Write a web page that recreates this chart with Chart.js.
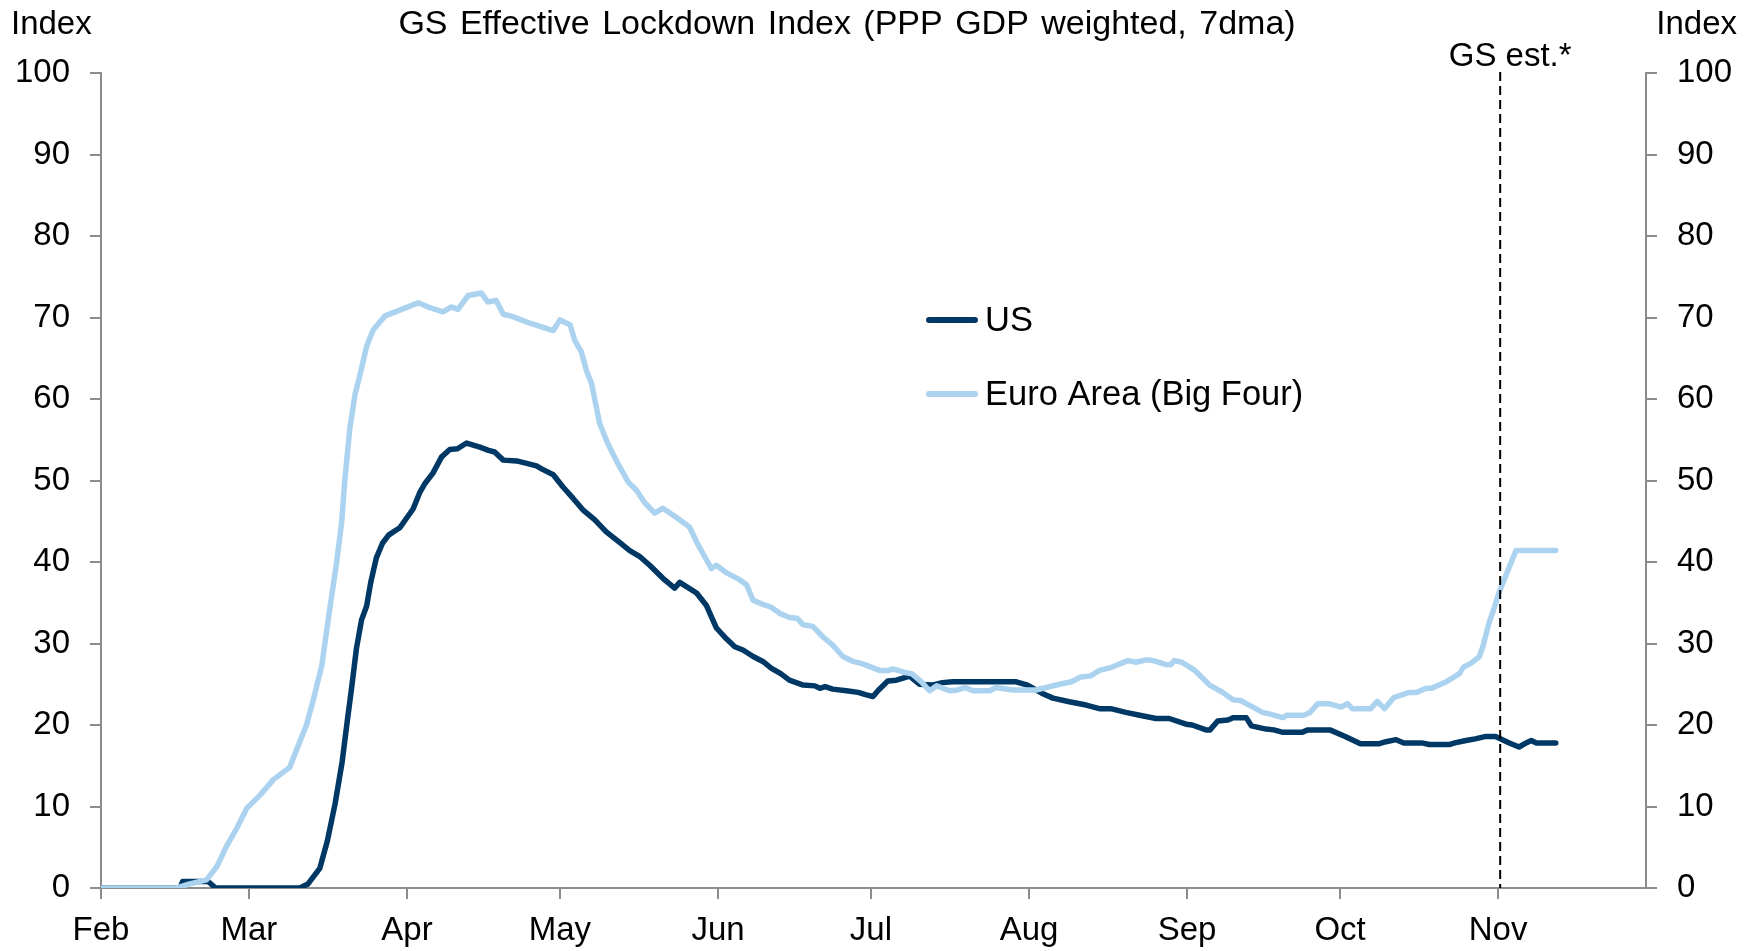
<!DOCTYPE html>
<html>
<head>
<meta charset="utf-8">
<title>GS Effective Lockdown Index</title>
<script src="https://cdn.jsdelivr.net/npm/chart.js@4.4.1/dist/chart.umd.min.js"></script>
<style>
  html, body { margin: 0; padding: 0; background: #fff; }
  #wrap { width: 1756px; height: 951px; }
</style>
</head>
<body>
<div id="wrap"><canvas id="lockdownChart" width="1756" height="951"></canvas></div>
<script>
// x values are days counted from 1 Feb 2020
const monthTicks = [0, 29, 60, 90, 121, 151, 182, 213, 243, 274];
const monthLabels = ['Feb', 'Mar', 'Apr', 'May', 'Jun', 'Jul', 'Aug', 'Sep', 'Oct', 'Nov'];
const yTicks = [0, 10, 20, 30, 40, 50, 60, 70, 80, 90, 100];
const estStartDay = 274.4;

const usDays = [0, 15.5, 16, 21, 22.5, 39, 40.6, 42.9, 44.4, 45.9, 47.3, 48.3, 49.1, 50.1, 51.1, 52.1, 52.9,
  54, 55.2, 56.4, 57.6, 58.6, 59.5, 61.2, 62.5, 63.5, 65.1, 66.8, 68.4, 69.9, 71.7, 74.3, 76, 77.2, 78.9,
  81.5, 83.5, 85.4, 86.5, 88.7, 90.6, 92.6, 94.5, 96.8, 99.1, 101.7, 103.7, 105.6, 107.6, 110.2, 112.5,
  113.5, 116.8, 118.7, 120.7, 122.6, 124.3, 125.9, 127.9, 129.8, 131.5, 133.3, 135, 137.7, 140, 141, 142,
  143.5, 146.2, 148.5, 150.1, 151.4, 152.5, 154.3, 156, 158.6, 160.5, 163, 165, 167, 179.5, 181.7, 184.5,
  186.7, 189.9, 193.2, 195.8, 198, 201, 203.7, 206.9, 209.5, 212.8, 214, 216.7, 217.5, 219, 221, 222,
  224.6, 225.6, 228.5, 230, 231.8, 235.5, 236.7, 241, 244, 247, 250.7, 252, 254, 255.5, 259, 260.5,
  264.4, 265.5, 267.7, 269.5, 271.6, 273.5, 276.2, 278.1, 279.5, 280.5, 281.5, 285.3];
const usValues = [0, 0, 0.8, 0.8, 0, 0, 0.5, 2.4, 5.8, 10.3, 15.5, 20.5, 24.3, 29.4, 32.9, 34.6, 37.5,
  40.5, 42.3, 43.3, 43.8, 44.2, 45, 46.5, 48.5, 49.6, 50.9, 52.9, 53.8, 53.9, 54.6, 54.1, 53.7, 53.5, 52.5,
  52.4, 52.1, 51.8, 51.4, 50.7, 49.2, 47.8, 46.4, 45.2, 43.7, 42.4, 41.4, 40.7, 39.6, 38.0, 36.8,
  37.5, 36.2, 34.7, 31.9, 30.6, 29.6, 29.2, 28.4, 27.8, 26.95, 26.3, 25.5, 24.9, 24.8, 24.5, 24.7,
  24.4, 24.2, 24.0, 23.7, 23.5, 24.3, 25.4, 25.5, 26.0, 25.0, 24.9, 25.2, 25.3, 25.3, 24.9, 23.9,
  23.3, 22.85, 22.45, 22.0, 22.0, 21.55, 21.2, 20.8, 20.8, 20.1, 20.0, 19.4, 19.4, 20.5, 20.6, 20.9,
  20.9, 19.9, 19.5, 19.4, 19.1, 19.1, 19.4, 19.4, 18.6, 17.7, 17.7, 17.95, 18.2, 17.8, 17.8, 17.6,
  17.6, 17.8, 18.1, 18.3, 18.6, 18.6, 17.8, 17.3, 17.8, 18.1, 17.8, 17.8];

const euDays = [0, 14.8, 17.4, 20.7, 22.7, 24.6, 26.6, 28.6, 31.2, 33.8, 37, 38.7, 40.3, 41.6, 43.3, 44.9,
  46.2, 47.2, 47.8, 48.8, 49.8, 50.8, 52.1, 53.4, 55.7, 58.6, 62.2, 64.5, 67.1, 68.7, 70, 72, 74.6, 75.9,
  77.5, 78.9, 80.8, 84.1, 86.1, 88.7, 90, 92, 92.9, 94.2, 95.2, 96.2, 97.8, 99.4, 101.7, 103.4, 105,
  106.6, 108.6, 110.2, 112.8, 115.4, 117.1, 119.7, 120.7, 122.6, 125.3, 126.6, 127.9, 129.8, 131.3,
  133.1, 135, 136.5, 137.7, 139.6, 141.6, 143.5, 145.5, 147.5, 149.4, 152.7, 154.5, 155.3, 157.9, 159,
  160.9, 162.5, 163.9, 166.4, 168, 169.5, 171, 174.3, 175.5, 178.8, 183.4, 185.4, 188, 190.3, 192.2,
  194, 195.8, 197.8, 201.4, 203, 205, 206.4, 208.9, 209.8, 210.5, 212, 214.5, 217.4, 220, 222, 223.5,
  225.9, 227.8, 229.5, 231.8, 232.5, 235.9, 237, 238.6, 240.9, 243.2, 244.5, 245.4, 249, 250.3, 251.7,
  253.6, 256.6, 258, 259.9, 261, 263.8, 266.4, 267.2, 268.7, 270.3, 271, 272.2, 273.3, 274.2, 276.2,
  277.5, 285.3];
const euValues = [0, 0, 0.5, 1.0, 2.6, 5.1, 7.3, 9.8, 11.4, 13.3, 14.8, 17.5, 20.0, 23.0, 27.3, 34.4,
  39.9, 44.9, 49.9, 56.4, 60.5, 63.0, 66.5, 68.5, 70.2, 70.9, 71.8, 71.2, 70.7, 71.3, 71.0, 72.7, 73.0, 71.9,
  72.1, 70.4, 70.1, 69.3, 68.9, 68.4, 69.7, 69.1, 67.2, 65.8, 63.5, 61.9, 57.0, 54.5, 51.7, 49.8, 48.8,
  47.3, 46.0, 46.6, 45.5, 44.3, 42.1, 39.2, 39.6, 38.7, 37.8, 37.2, 35.3, 34.8, 34.5,
  33.7, 33.2, 33.1, 32.3, 32.1, 30.8, 29.8, 28.4, 27.8, 27.5, 26.7, 26.7, 26.9, 26.4, 26.3,
  25.3, 24.2, 24.8, 24.2, 24.3, 24.6, 24.2, 24.2, 24.6, 24.3, 24.3, 24.6, 25.0, 25.3, 25.9,
  26.0, 26.7, 27.0, 27.9, 27.7, 28.0, 27.9, 27.4, 27.4, 27.9, 27.7, 26.7, 24.9, 24.0, 23.1, 23.0,
  22.2, 21.55, 21.3, 20.9, 21.2, 21.2, 21.5, 22.6, 22.6, 22.2, 22.6, 22.0, 22.0, 22.9, 22.0,
  23.4, 24.0, 24.0, 24.5, 24.5, 25.3, 26.3, 27.1, 27.6, 28.4, 29.6, 32.5, 34.5, 36.3, 39.4,
  41.4, 41.4];

const FONT = '"Liberation Sans", Arial, sans-serif';
const AXIS_GREY = '#8c8c8c';
const US_COLOR = '#003865';
const EU_COLOR = '#abd3f0';

Chart.defaults.font.family = FONT;
Chart.defaults.font.size = 33;
Chart.defaults.color = '#000';

const toPoints = (days, values) => days.map((d, i) => ({ x: d, y: values[i] }));

// extra text, dashed estimate marker and legend
const annotations = {
  id: 'annotations',
  afterDraw(chart) {
    const { ctx, chartArea, scales } = chart;
    ctx.save();
    ctx.font = '33px ' + FONT;
    ctx.fillStyle = '#000';
    ctx.textBaseline = 'middle';

    ctx.textAlign = 'left';
    ctx.fillText('Index', 11, 25);
    ctx.textAlign = 'right';
    ctx.fillText('Index', 1737, 25);

    ctx.font = '34px ' + FONT;
    ctx.textAlign = 'center';
    ctx.wordSpacing = '3px';
    ctx.fillText('GS Effective Lockdown Index (PPP GDP weighted, 7dma)', 847, 25);
    ctx.wordSpacing = '0px';

    // estimate marker
    ctx.font = '33px ' + FONT;
    const xEst = scales.x.getPixelForValue(estStartDay);
    ctx.fillText('GS est.*', xEst + 10, 57);
    ctx.strokeStyle = '#000';
    ctx.lineWidth = 2;
    ctx.setLineDash([9, 5]);
    ctx.beginPath();
    ctx.moveTo(xEst, 72);
    ctx.lineTo(xEst, chartArea.bottom);
    ctx.stroke();
    ctx.setLineDash([]);

    // legend
    ctx.font = '34.5px ' + FONT;
    ctx.textAlign = 'left';
    ctx.lineCap = 'round';
    ctx.lineWidth = 6;
    chart.data.datasets.forEach((ds, i) => {
      const y = 320 + i * 74;
      ctx.strokeStyle = ds.borderColor;
      ctx.beginPath();
      ctx.moveTo(929, y);
      ctx.lineTo(975, y);
      ctx.stroke();
      ctx.fillText(ds.label, 985, y + 1);
    });
    ctx.restore();
  }
};

const yAxis = (position, width) => ({
  position: position,
  min: 0,
  max: 100,
  afterBuildTicks: s => { s.ticks = yTicks.map(v => ({ value: v })); },
  afterFit: s => { s.width = width; },
  ticks: { padding: 20 },
  grid: { drawOnChartArea: false, tickLength: 11, color: AXIS_GREY, lineWidth: 2 },
  border: { color: AXIS_GREY, width: 2 }
});

new Chart(document.getElementById('lockdownChart'), {
  type: 'line',
  data: {
    datasets: [
      {
        label: 'US',
        data: toPoints(usDays, usValues),
        borderColor: US_COLOR,
        borderWidth: 5.5,
        order: 2
      },
      {
        label: 'Euro Area (Big Four)',
        data: toPoints(euDays, euValues),
        borderColor: EU_COLOR,
        borderWidth: 5.5,
        order: 1
      }
    ]
  },
  options: {
    responsive: false,
    animation: false,
    layout: { padding: { top: 73, left: 0, right: 0, bottom: 0 } },
    elements: {
      point: { radius: 0 },
      line: { tension: 0, borderJoinStyle: 'round', borderCapStyle: 'round' }
    },
    plugins: {
      legend: { display: false },
      tooltip: { enabled: false }
    },
    scales: {
      x: {
        type: 'linear',
        min: 0,
        max: 303,
        afterBuildTicks: s => { s.ticks = monthTicks.map(v => ({ value: v })); },
        afterFit: s => { s.height = 63; },
        ticks: {
          autoSkip: false,
          maxRotation: 0,
          padding: 12,
          callback: (v, i) => monthLabels[i]
        },
        grid: { drawOnChartArea: false, tickLength: 11, color: AXIS_GREY, lineWidth: 2 },
        border: { color: AXIS_GREY, width: 2 }
      },
      y: yAxis('left', 101),
      y2: yAxis('right', 110)
    }
  },
  plugins: [annotations]
});
</script>
</body>
</html>
